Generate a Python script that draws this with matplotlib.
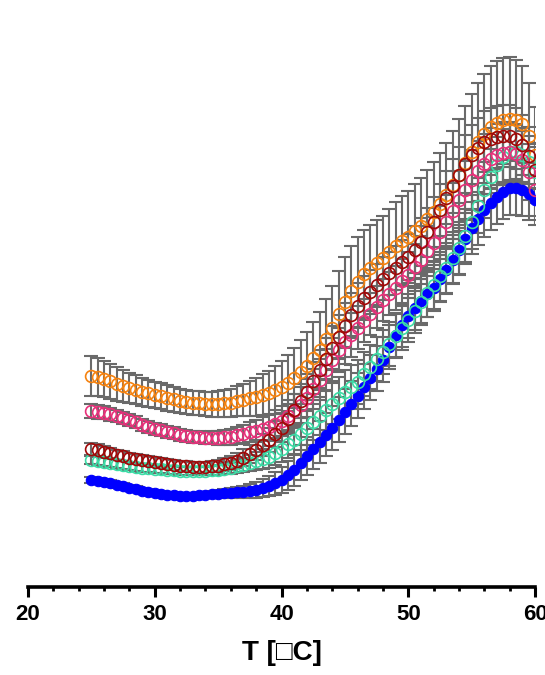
import numpy as np
import matplotlib
matplotlib.use("Agg")
import matplotlib.pyplot as plt

# Temperature grid (°C), 0.5 °C steps from 25 to 60
temperature = np.arange(25.0, 60.01, 0.5)

# Signal (arbitrary units) for each sample
orange_vals = [42.2, 41.9, 41.6, 41.1, 40.6, 40.2, 39.8, 39.4, 39.0, 38.7,
               38.4, 38.1, 37.8, 37.5, 37.2, 37.0, 36.8, 36.7, 36.6, 36.5,
               36.6, 36.7, 36.8, 37.1, 37.4, 37.7, 38.0, 38.4, 38.8, 39.3,
               40.0, 40.8, 41.8, 42.9, 44.2, 45.7, 47.4, 49.5, 51.8, 54.5,
               57.0, 59.2, 61.0, 62.5, 63.8, 64.8, 65.8, 67.0, 68.2, 69.1,
               70.0, 71.1, 72.2, 73.6, 75.0, 76.6, 78.4, 80.4, 82.4, 84.8,
               87.0, 89.0, 90.6, 91.9, 92.8, 93.4, 93.6, 93.4, 92.6, 90.2,
               86.4]
orange_err = [4.0, 3.8, 3.6, 3.5, 3.4, 3.2, 3.0, 2.9, 2.8, 2.7,
              2.6, 2.6, 2.6, 2.5, 2.4, 2.4, 2.4, 2.4, 2.4, 2.5,
              2.6, 2.7, 2.8, 3.0, 3.2, 3.5, 3.8, 4.1, 4.4, 4.8,
              5.2, 5.6, 6.0, 6.4, 6.8, 7.2, 7.6, 8.0, 8.4, 8.7,
              9.0, 9.0, 9.0, 8.8, 8.6, 8.5, 8.4, 8.6, 8.8, 9.0,
              9.2, 9.4, 9.6, 9.8, 10.0, 10.2, 10.4, 10.8, 11.2, 11.4,
              11.6, 11.8, 12.0, 12.2, 12.4, 12.4, 12.4, 12.0, 11.6, 10.6,
              9.6]

darkred_vals = [27.6, 27.3, 27.0, 26.7, 26.4, 26.1, 25.8, 25.6, 25.4, 25.2,
                25.0, 24.8, 24.6, 24.4, 24.2, 24.1, 24.0, 24.0, 24.0, 24.1,
                24.2, 24.5, 24.8, 25.2, 25.8, 26.5, 27.4, 28.4, 29.4, 30.5,
                31.8, 33.5, 35.4, 37.2, 39.0, 41.2, 43.4, 45.6, 47.8, 50.0,
                52.2, 54.3, 56.2, 57.7, 59.0, 60.3, 61.6, 62.7, 63.8, 64.9,
                66.0, 67.4, 69.0, 70.9, 73.0, 75.4, 77.8, 80.2, 82.4, 84.5,
                86.4, 87.8, 89.0, 89.6, 90.0, 90.2, 90.2, 89.6, 88.4, 86.2,
                83.4]
darkred_err = [1.2, 1.2, 1.1, 1.0, 1.0, 1.0, 1.0, 1.0, 1.0, 1.0,
               1.0, 1.0, 1.0, 1.0, 1.0, 1.0, 1.0, 1.0, 1.0, 1.1,
               1.2, 1.3, 1.4, 1.5, 1.7, 1.8, 2.0, 2.2, 2.4, 2.6,
               2.8, 3.0, 3.2, 3.4, 3.6, 3.8, 4.0, 4.2, 4.3, 4.4,
               4.5, 4.5, 4.5, 4.4, 4.4, 4.3, 4.3, 4.3, 4.4, 4.5,
               4.6, 4.7, 4.8, 4.9, 5.0, 5.2, 5.3, 5.4, 5.6, 5.8,
               5.9, 6.0, 6.1, 6.2, 6.2, 6.2, 6.2, 6.1, 6.0, 5.7,
               5.4]

pink_vals = [35.2, 35.0, 34.8, 34.5, 34.2, 33.8, 33.4, 32.9, 32.4, 32.0,
             31.6, 31.3, 31.0, 30.7, 30.4, 30.2, 30.0, 29.9, 29.8, 29.8,
             29.8, 29.9, 30.0, 30.3, 30.6, 30.9, 31.2, 31.6, 32.0, 32.5,
             33.2, 34.1, 35.2, 36.4, 37.8, 39.6, 41.4, 43.4, 45.4, 47.3,
             49.0, 50.4, 51.8, 53.2, 54.6, 56.0, 57.4, 58.6, 59.8, 61.1,
             62.4, 63.9, 65.4, 67.1, 68.8, 70.9, 73.0, 75.2, 77.4, 79.4,
             81.4, 83.1, 84.6, 85.6, 86.4, 86.8, 87.0, 86.5, 85.4, 83.0,
             79.4]
pink_err = [1.4, 1.4, 1.3, 1.3, 1.2, 1.2, 1.2, 1.2, 1.2, 1.2,
            1.2, 1.2, 1.2, 1.2, 1.2, 1.2, 1.2, 1.2, 1.2, 1.3,
            1.4, 1.5, 1.6, 1.7, 1.8, 2.0, 2.2, 2.4, 2.6, 2.8,
            3.0, 3.2, 3.4, 3.6, 3.8, 4.0, 4.1, 4.2, 4.3, 4.4,
            4.4, 4.4, 4.3, 4.3, 4.2, 4.2, 4.2, 4.3, 4.4, 4.5,
            4.6, 4.7, 4.8, 5.0, 5.2, 5.3, 5.4, 5.6, 5.7, 5.8,
            5.9, 6.0, 6.0, 6.1, 6.1, 6.1, 6.0, 5.9, 5.8, 5.6,
            5.3]

green_vals = [25.4, 25.2, 25.0, 24.8, 24.6, 24.4, 24.2, 24.0, 23.8, 23.7,
              23.6, 23.5, 23.4, 23.3, 23.2, 23.2, 23.2, 23.2, 23.2, 23.3,
              23.4, 23.6, 23.8, 24.1, 24.4, 24.8, 25.2, 25.6, 26.0, 26.7,
              27.6, 28.5, 29.4, 30.6, 31.8, 33.0, 34.2, 35.4, 36.6, 37.8,
              39.0, 40.0, 41.0, 42.5, 44.0, 45.5, 47.0, 48.6, 50.2, 51.8,
              53.4, 55.2, 57.0, 58.7, 60.4, 62.1, 63.8, 65.8, 67.8, 70.2,
              73.0, 76.2, 79.4, 82.0, 84.4, 85.9, 87.0, 87.0, 86.4, 84.9,
              83.0]
green_err = [0.8, 0.8, 0.8, 0.8, 0.8, 0.8, 0.8, 0.8, 0.8, 0.8,
             0.8, 0.8, 0.8, 0.8, 0.8, 0.8, 0.8, 0.8, 0.8, 0.9,
             1.0, 1.1, 1.2, 1.3, 1.4, 1.6, 1.8, 2.0, 2.2, 2.4,
             2.6, 2.8, 3.0, 3.2, 3.4, 3.6, 3.8, 4.0, 4.1, 4.2,
             4.3, 4.4, 4.4, 4.4, 4.4, 4.4, 4.4, 4.4, 4.4, 4.4,
             4.4, 4.5, 4.6, 4.7, 4.8, 4.9, 5.0, 5.1, 5.2, 5.3,
             5.4, 5.5, 5.6, 5.6, 5.6, 5.6, 5.6, 5.5, 5.4, 5.2,
             5.0]

blue_vals = [21.4, 21.2, 21.0, 20.7, 20.4, 20.1, 19.8, 19.5, 19.2, 19.0,
             18.8, 18.6, 18.4, 18.3, 18.2, 18.2, 18.2, 18.3, 18.4, 18.5,
             18.6, 18.7, 18.8, 18.9, 19.0, 19.2, 19.4, 19.7, 20.2, 20.7,
             21.4, 22.3, 23.4, 24.8, 26.2, 27.6, 29.0, 30.4, 31.8, 33.4,
             35.0, 36.6, 38.2, 40.0, 41.8, 43.6, 45.4, 47.9, 50.4, 52.4,
             54.2, 55.7, 57.2, 58.5, 59.8, 61.6, 63.4, 65.4, 67.4, 69.6,
             71.8, 73.6, 75.4, 76.8, 78.0, 79.0, 79.8, 79.8, 79.4, 78.5,
             77.4]
blue_err = [0.6, 0.6, 0.6, 0.6, 0.6, 0.6, 0.6, 0.6, 0.6, 0.6,
            0.6, 0.6, 0.6, 0.6, 0.6, 0.6, 0.6, 0.6, 0.6, 0.7,
            0.8, 0.9, 1.0, 1.1, 1.2, 1.4, 1.6, 1.8, 2.0, 2.3,
            2.6, 2.9, 3.2, 3.5, 3.8, 4.0, 4.2, 4.3, 4.4, 4.5,
            4.5, 4.5, 4.5, 4.5, 4.5, 4.5, 4.5, 4.4, 4.4, 4.4,
            4.4, 4.4, 4.4, 4.5, 4.6, 4.7, 4.8, 4.9, 5.0, 5.1,
            5.2, 5.3, 5.4, 5.5, 5.5, 5.5, 5.5, 5.4, 5.3, 5.2,
            5.0]

x_ticks = [20, 30, 40, 50, 60]
x_label = "T [\u25a1C]"

FONT = ["Liberation Sans", "DejaVu Sans"]
ERR_GRAY = "#6A6A6A"

fig = plt.figure(figsize=(5.45, 6.75), dpi=100)
ax = fig.add_axes([0.0514, 0.1304, 0.9303, 0.8696])

# (values, errors, colour, filled, draw order)
series = [
    (blue_vals, blue_err, "#0000FF", True, 3),
    (orange_vals, orange_err, "#F5820F", False, 4),
    (green_vals, green_err, "#3CDCA6", False, 5),
    (pink_vals, pink_err, "#E8307A", False, 6),
    (darkred_vals, darkred_err, "#A00808", False, 7),
]

# gray error bars underneath all markers
for vals, err, col, filled, z in series:
    ax.errorbar(temperature, vals, yerr=err, fmt="none", ecolor=ERR_GRAY,
                elinewidth=1.5, capsize=5, capthick=1.5, zorder=2)

for vals, err, col, filled, z in series:
    if filled:
        ax.plot(temperature, vals, linestyle="none", marker="o", markersize=7.5,
                markerfacecolor=col, markeredgecolor=col, markeredgewidth=0.8,
                zorder=z)
    else:
        ax.plot(temperature, vals, linestyle="none", marker="o", markersize=8.5,
                markerfacecolor="none", markeredgecolor=col,
                markeredgewidth=1.2, zorder=z)

ax.set_xlim(20, 60)
ax.set_ylim(0, 117.4)

for side in ("left", "right", "top"):
    ax.spines[side].set_visible(False)
ax.spines["bottom"].set_linewidth(2.6)
ax.yaxis.set_visible(False)

ax.set_xticks(x_ticks)
ax.set_xticks(np.arange(20, 61, 2), minor=True)
ax.tick_params(axis="x", which="major", direction="out", length=7, width=2.2,
               pad=5)
ax.tick_params(axis="x", which="minor", direction="out", length=3, width=2.0)
for lbl in ax.get_xticklabels():
    lbl.set_fontfamily(FONT)
    lbl.set_fontweight("bold")
    lbl.set_fontsize(16)
    lbl.set_clip_on(False)

ax.set_xlabel(x_label, fontsize=20, fontweight="bold", family=FONT, labelpad=11)
ax.patch.set_visible(False)

fig.savefig("out.png", dpi=100)
